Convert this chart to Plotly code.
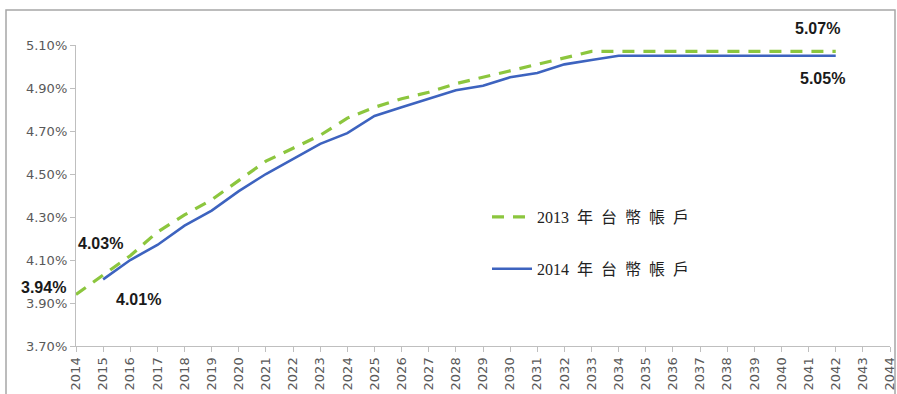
import plotly.graph_objects as go

years_2013 = list(range(2014, 2043))
rate_2013 = [3.94, 4.03, 4.12, 4.23, 4.31, 4.38, 4.47, 4.56, 4.62, 4.68, 4.76, 4.81, 4.85, 4.88, 4.92, 4.95, 4.98, 5.01, 5.04, 5.07,
             5.07, 5.07, 5.07, 5.07, 5.07, 5.07, 5.07, 5.07, 5.07]
years_2014 = list(range(2015, 2043))
rate_2014 = [4.01, 4.10, 4.17, 4.26, 4.33, 4.42, 4.50, 4.57, 4.64, 4.69, 4.77, 4.81, 4.85, 4.89, 4.91, 4.95, 4.97, 5.01, 5.03,
             5.05, 5.05, 5.05, 5.05, 5.05, 5.05, 5.05, 5.05, 5.05]
name_2013 = "2013\u2002年\u2002台\u2002幣\u2002帳\u2002戶"
name_2014 = "2014\u2002年\u2002台\u2002幣\u2002帳\u2002戶"
y_ticks = [3.70, 3.90, 4.10, 4.30, 4.50, 4.70, 4.90, 5.10]
x_ticks = list(range(2014, 2045))
labels = [  # (x, y, text)
    (2014, 3.94, "3.94%"),
    (2015, 4.03, "4.03%"),
    (2015, 4.01, "4.01%"),
    (2042, 5.07, "5.07%"),
    (2042, 5.05, "5.05%"),
]

W, H = 897, 394
L, R, T, B = 76, 7, 45, 48
pw, ph = W - L - R, H - T - B

fig = go.Figure()
fig.add_trace(go.Scatter(x=years_2013, y=rate_2013, mode="lines", name=name_2013,
                         line=dict(color="#8cc63e", width=3.2, dash="12px,9px"), legendgroup="a"))
fig.add_trace(go.Scatter(x=years_2014, y=rate_2014, mode="lines", name=name_2014,
                         line=dict(color="#3d63bf", width=2.6), legendgroup="b"))

ann_font = dict(family="Liberation Sans, Arial", size=16, color="#1a1a1a")
offsets = {
    "3.94%": dict(xshift=-33, yshift=7),
    "4.03%": dict(xshift=-3, yshift=32),
    "4.01%": dict(xshift=35, yshift=-20),
    "5.07%": dict(xshift=-18, yshift=23),
    "5.05%": dict(xshift=-13, yshift=-23),
}
for x, y, t in labels:
    fig.add_annotation(x=x, y=y, text="<b>%s</b>" % t, showarrow=False, font=ann_font, **offsets[t])

# outer frame
fig.add_shape(type="rect", xref="paper", yref="paper",
              x0=(6 - L) / pw, x1=(895 - L) / pw,
              y0=-0.5, y1=(H - B - 10) / ph,
              line=dict(color="#a6a6a6", width=1.5), layer="below")

tick_font = dict(family="DejaVu Sans", size=13, color="#595959")
fig.update_layout(
    width=W, height=H,
    margin=dict(l=L, r=R, t=T, b=B),
    paper_bgcolor="white", plot_bgcolor="white",
    showlegend=True,
    legend=dict(x=(487 - L) / pw, y=(346 - 200) / ph, xanchor="left", yanchor="top",
                font=dict(family="Liberation Serif, Noto Sans CJK TC", size=16, color="#222222"),
                tracegroupgap=28, itemwidth=40, bgcolor="rgba(0,0,0,0)"),
    xaxis=dict(range=[2014, 2044], tickmode="array", tickvals=x_ticks, ticktext=[str(v) for v in x_ticks],
               tickangle=-90, showgrid=False, zeroline=False, showline=True, linecolor="#bfbfbf", linewidth=1.3,
               ticks="outside", ticklen=5, tickcolor="#bfbfbf", automargin=False,
               ticklabeloverflow="allow", tickfont=tick_font),
    yaxis=dict(range=[3.70, 5.10], tickmode="array", tickvals=y_ticks, ticktext=["%.2f%%" % v for v in y_ticks],
               showgrid=False, zeroline=False, showline=True, linecolor="#bfbfbf", linewidth=1.3,
               ticks="outside", ticklen=5, tickcolor="#bfbfbf", automargin=False,
               ticklabeloverflow="allow", tickfont=tick_font),
)

fig.write_html("out.html", config={"displayModeBar": False},
               post_script="document.body.style.margin='0';document.body.style.overflow='hidden';")
